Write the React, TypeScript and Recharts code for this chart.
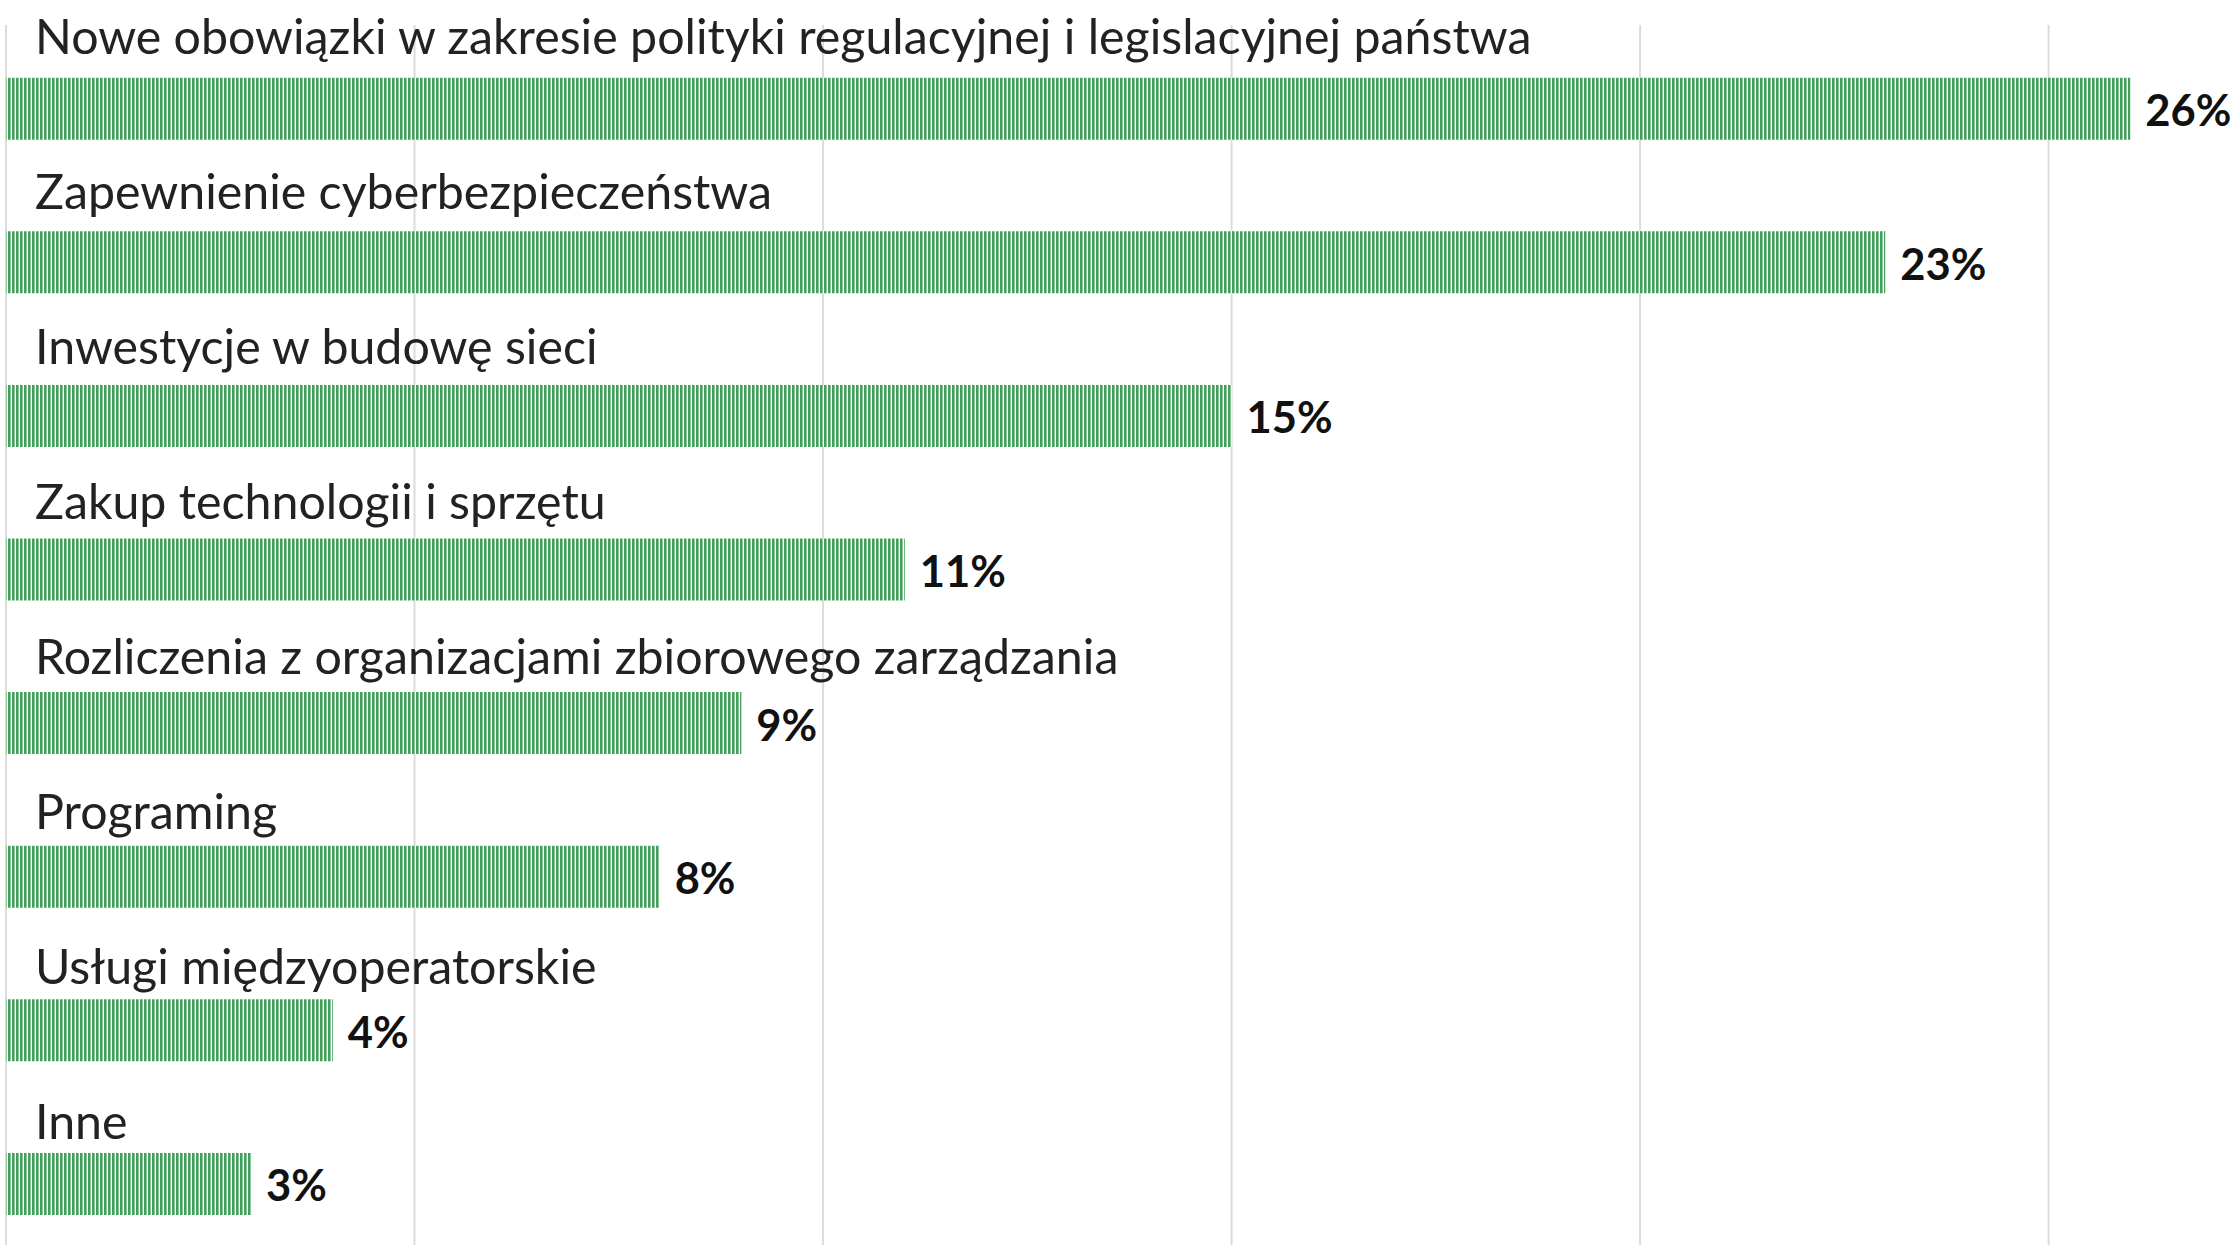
import { BarChart, Bar, XAxis, YAxis, CartesianGrid, LabelList } from "recharts";

const categories = [
  "Nowe obowiązki w zakresie polityki regulacyjnej i legislacyjnej państwa",
  "Zapewnienie cyberbezpieczeństwa",
  "Inwestycje w budowę sieci",
  "Zakup technologii i sprzętu",
  "Rozliczenia z organizacjami zbiorowego zarządzania",
  "Programing",
  "Usługi międzyoperatorskie",
  "Inne",
];
const values = [26, 23, 15, 11, 9, 8, 4, 3];
const gridTicks = [0, 5, 10, 15, 20, 25];
const X_MAX = 27.33;

const data = categories.map((name, i) => ({ name, value: values[i] }));

const GREEN = "#43a05b";

// category name sits above its bar, left aligned (names are spaced a touch wider than bars)
function CategoryLabel(props: any) {
  const { y, value, index } = props;
  return (
    <text x={35} y={y - 24 + 1.4 * index} fill="#222" fontSize={48.3} fontFamily="Lato" textAnchor="start">
      {value}
    </text>
  );
}

export default function App() {
  return (
    <div style={{ position: "absolute", left: 0, top: 0, width: 2239, height: 1245, overflow: "hidden", background: "#fff" }}>
      <BarChart
        layout="vertical"
        width={2239}
        height={1265}
        data={data}
        margin={{ top: 25, right: 0, bottom: 0, left: 6 }}
      >
        <defs>
          <pattern id="stripes" width="4" height="10" patternUnits="userSpaceOnUse">
            <rect width="4" height="10" fill="#fff" />
            <rect width="2.6" height="10" fill={GREEN} />
          </pattern>
        </defs>
        <CartesianGrid
          horizontal={false}
          stroke="#dcdcdc"
          strokeWidth={2}
          verticalCoordinatesGenerator={({ offset }: any) =>
            gridTicks.map(t => offset.left + (t / X_MAX) * offset.width)
          }
        />
        <XAxis type="number" domain={[0, X_MAX]} ticks={gridTicks} hide />
        <YAxis type="category" dataKey="name" hide padding={{ top: 6.7, bottom: 4.5 }} />
        <Bar dataKey="value" barSize={62} fill="url(#stripes)" isAnimationActive={false}>
          <LabelList dataKey="name" content={CategoryLabel} />
          <LabelList
            dataKey="value"
            position="right"
            offset={15}
            dy={2}
            formatter={(v: any) => `${v}%`}
            fill="#111"
            fontSize={43.5}
            fontWeight={700}
            fontFamily="Lato"
          />
        </Bar>
      </BarChart>
    </div>
  );
}
